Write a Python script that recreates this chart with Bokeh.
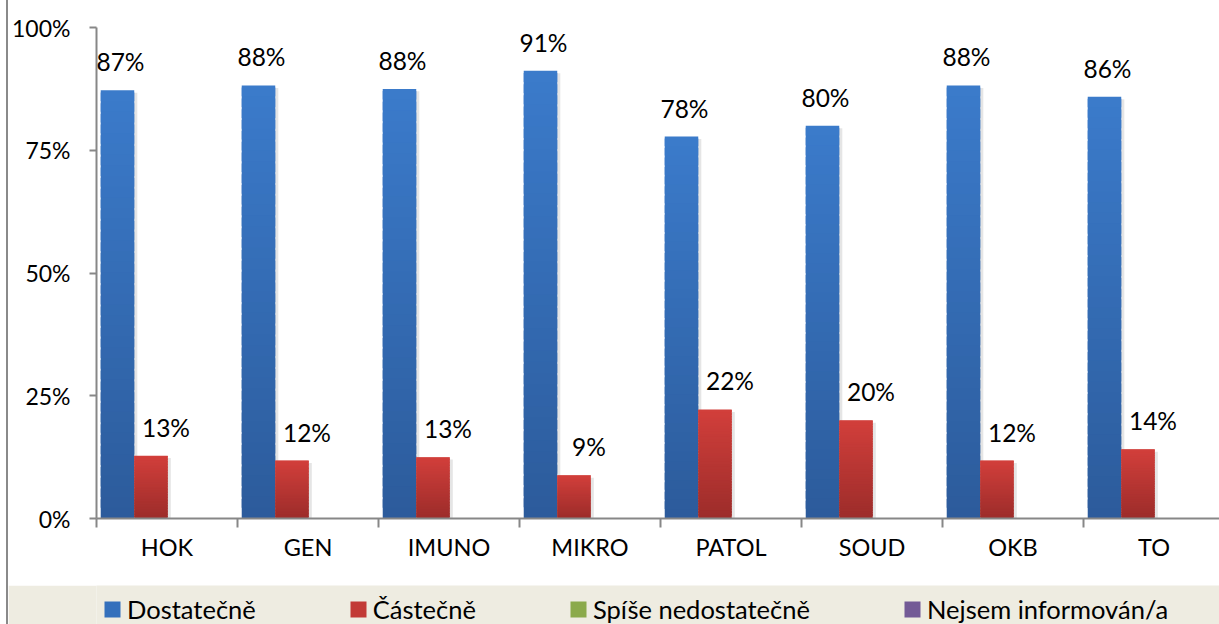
import math
import numpy as np
from bokeh.plotting import figure
from bokeh.models import Range1d, FixedTicker, Legend, LegendItem, LabelSet, ColumnDataSource
from bokeh.layouts import column
from bokeh.embed import file_html
from bokeh.resources import INLINE
from bokeh.core.properties import value

# ---------------- data ----------------
categories = ["HOK", "GEN", "IMUNO", "MIKRO", "PATOL", "SOUD", "OKB", "TO"]
series_names = ["Dostatečně", "Částečně", "Spíše nedostatečně", "Nejsem informován/a"]
dostatecne = [87.2, 88.2, 87.5, 91.2, 77.8, 80.0, 88.2, 85.9]
castecne = [12.8, 11.8, 12.5, 8.8, 22.2, 20.0, 11.8, 14.1]
spise_nedostatecne = [0, 0, 0, 0, 0, 0, 0, 0]
nejsem_informovan = [0, 0, 0, 0, 0, 0, 0, 0]
y_ticks = [0, 25, 50, 75, 100]

series_values = [dostatecne, castecne, spise_nedostatecne, nejsem_informovan]

# ---------------- styles ----------------
grad_top = ["#3B7BCB", "#D23F3B", "#9BBB59", "#8064A2"]
grad_bot = ["#2C5B9B", "#9C2C2A", "#76923C", "#5F497A"]
legend_cols = ["#3470BC", "#C23A36", "#8BAA4B", "#735A96"]
label_dx = [3, 15, 0, 0]
FONT = "Lato"
AXIS_COLOR = "#878787"

PX_PER_CAT = 141.0
FIG_W = 1211
LEFT = 88
bar_w = 0.2376
group_pad = 0.03


def hex2rgb(h):
    h = h.lstrip("#")
    return np.array([int(h[i:i + 2], 16) for i in (0, 2, 4)], dtype=float)


def rgb2hex(c):
    return "#%02x%02x%02x" % tuple(int(round(v)) for v in c)


p = figure(width=FIG_W, height=585,
           x_range=Range1d(0, (FIG_W - LEFT) / PX_PER_CAT), y_range=Range1d(0, 100),
           output_backend="svg", toolbar_location=None,
           min_border_left=LEFT, min_border_right=0, min_border_top=27, min_border_bottom=67)
p.outline_line_color = None
p.grid.visible = False
p.background_fill_color = "white"
p.border_fill_color = "white"

# bar centres for each series
centres = [[i + group_pad + bar_w * (j + 0.5) for i in range(len(categories))]
           for j in range(len(series_values))]

# ---------------- soft shadows ----------------
for j, vals in enumerate(series_values):
    sl = [x - bar_w / 2 + 0.012 for x, v in zip(centres[j], vals) if v > 0]
    sr = [x + bar_w / 2 + 0.022 for x, v in zip(centres[j], vals) if v > 0]
    st = [v - 0.5 for v in vals if v > 0]
    if sl:
        p.quad(left=sl, right=sr, bottom=[0] * len(sl), top=st,
               fill_color="black", fill_alpha=0.10, line_color=None)

# ---------------- bars (vertical gradient via slices) ----------------
N = 40
for j, vals in enumerate(series_values):
    left, right, bottom, top, cols = [], [], [], [], []
    ctop, cbot = hex2rgb(grad_top[j]), hex2rgb(grad_bot[j])
    for x, v in zip(centres[j], vals):
        if v <= 0:
            continue
        for k in range(N):
            left.append(x - bar_w / 2)
            right.append(x + bar_w / 2)
            bottom.append(v * k / N)
            top.append(min(v, v * (k + 1.8) / N))
            t = (k + 0.5) / N
            cols.append(rgb2hex(cbot + (ctop - cbot) * t))
    if left:
        p.quad(left=left, right=right, bottom=bottom, top=top,
               fill_color=cols, line_color=None)

# ---------------- data labels ----------------
for j, vals in enumerate(series_values):
    lx = [x for x, v in zip(centres[j], vals) if v > 0]
    ly = [v for v in vals if v > 0]
    lt = ["%d%%" % math.floor(v + 0.5) for v in vals if v > 0]
    if lx:
        src = ColumnDataSource(dict(x=lx, y=ly, t=lt))
        p.add_layout(LabelSet(x="x", y="y", text="t", source=src,
                              text_align="center", text_baseline="alphabetic",
                              x_offset=label_dx[j], y_offset=19,
                              text_font=value(FONT), text_font_size=value("24.5px"),
                              text_color="black"))

# ---------------- axes ----------------
yax = p.yaxis[0]
yax.ticker = FixedTicker(ticks=y_ticks, minor_ticks=[])
yax.major_label_overrides = {t: "%d%%" % t for t in y_ticks}
yax.axis_line_color = AXIS_COLOR
yax.axis_line_width = 2
yax.major_tick_line_color = AXIS_COLOR
yax.major_tick_line_width = 2
yax.major_tick_out = 7
yax.major_tick_in = 0
yax.minor_tick_line_color = None
yax.major_label_standoff = 19
yax.major_label_text_font = FONT
yax.major_label_text_font_size = "23px"
yax.major_label_text_color = "black"

xax = p.xaxis[0]
xax.ticker = FixedTicker(ticks=[i + 0.5 for i in range(len(categories))],
                         minor_ticks=list(range(len(categories) + 1)))
xax.major_label_overrides = {i + 0.5: c for i, c in enumerate(categories)}
xax.axis_line_color = AXIS_COLOR
xax.axis_line_width = 2
xax.major_tick_line_color = None
xax.major_tick_out = 0
xax.major_tick_in = 0
xax.minor_tick_line_color = AXIS_COLOR
xax.minor_tick_line_width = 2
xax.minor_tick_out = 9
xax.minor_tick_in = 0
xax.major_label_standoff = 5
xax.major_label_text_font = FONT
xax.major_label_text_font_size = "23.5px"
xax.major_label_text_color = "black"

# ---------------- legend strip ----------------
leg = figure(width=FIG_W, height=39, x_range=Range1d(0, 1), y_range=Range1d(0, 1),
             output_backend="svg", toolbar_location=None,
             x_axis_location=None, y_axis_location=None, min_border=0)
leg.grid.visible = False
leg.outline_line_color = None
leg.background_fill_color = "#EEECE1"
leg.border_fill_color = "#EEECE1"
items = []
for name, c in zip(series_names, legend_cols):
    # legend swatch renderers: kept outside the visible range of the strip
    r = leg.quad(left=[2], right=[3], bottom=[2], top=[3], fill_color=c, line_color=None)
    items.append(LegendItem(label=name, renderers=[r]))
legend = Legend(items=items, orientation="horizontal", location=(6, 0),
                spacing=92, glyph_width=20, glyph_height=20, label_standoff=5,
                padding=0, margin=0, border_line_color=None, background_fill_alpha=0,
                label_text_font=FONT, label_text_font_size="25.5px", label_text_color="black")
leg.add_layout(legend)

layout = column(p, leg, styles={"border-left": "2px solid #8a8a8a", "margin-left": "6px"})

open("out.html", "w").write(file_html(layout, INLINE))
